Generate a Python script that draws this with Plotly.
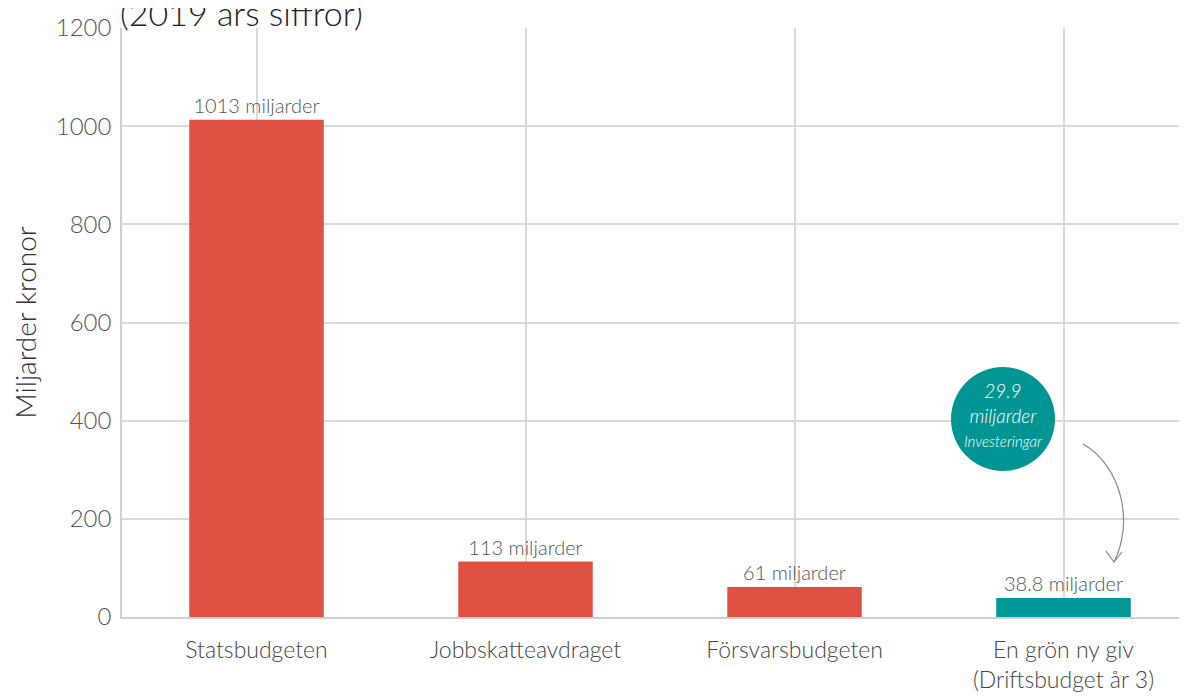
import plotly.graph_objects as go

categories = ["Statsbudgeten", "Jobbskatteavdraget", "Försvarsbudgeten",
              "En grön ny giv<br>(Driftsbudget år 3)"]
values = [1013, 113, 61, 38.8]
labels = ["1013 miljarder", "113 miljarder", "61 miljarder", "38.8 miljarder"]
colors = ["#DF5243", "#DF5243", "#DF5243", "#00979A"]
y_ticks = [0, 200, 400, 600, 800, 1000, 1200]
title_text = "(2019 års siffror)"
circle_value = "29.9"
circle_unit = "miljarder"
circle_note = "Investeringar"

FONT = "Lato"
GREY = "#555555"

# page body has an 8px margin; compensate so the plot lands where the reference has it
OFF = 8
L, R, T, B = 122 - OFF, 0, 28 - OFF, 696 - (617 - OFF)
W, H = 1187, 696
pw = W - L - R
ph = H - T - B
xr = [-0.5, -0.5 + pw / 269.0]
yr = [0, 1200]

def dx(px):
    return xr[0] + (px - OFF - L) / pw * (xr[1] - xr[0])

def dy(py):
    return yr[0] + (T + ph - (py - OFF)) / ph * (yr[1] - yr[0])

fig = go.Figure()
fig.add_trace(go.Bar(
    x=list(range(len(categories))), y=values, width=0.5,
    marker=dict(color=colors, line=dict(width=0)),
    text=labels, textposition="outside", cliponaxis=False,
    textfont=dict(family=FONT, size=20, color=GREY, weight=300),
))

# circle annotation
cx, cy = dx(1003), dy(419)
fig.add_shape(type="circle", xref="x", yref="y", xsizemode="pixel", ysizemode="pixel",
              xanchor=cx, yanchor=cy, x0=-52, x1=52, y0=-52, y1=52,
              fillcolor="#009592", line=dict(width=0), layer="above")
fig.add_annotation(x=cx, y=cy, xref="x", yref="y", showarrow=False,
                   text=f"<i>{circle_value}<br>{circle_unit}</i><br><i><span style='font-size:15px'>{circle_note}</span></i>",
                   font=dict(family=FONT, size=19, color="white", weight=300), align="center", yshift=5)

# curved arrow
p0 = (dx(1083), dy(444))
c1 = (dx(1120), dy(465))
c2 = (dx(1135), dy(520))
p1 = (dx(1114), dy(562))
fig.add_shape(type="path", xref="x", yref="y",
              path=f"M {p0[0]},{p0[1]} C {c1[0]},{c1[1]} {c2[0]},{c2[1]} {p1[0]},{p1[1]}",
              line=dict(color="#888888", width=1.2))
fig.add_shape(type="path", xref="x", yref="y",
              path=f"M {dx(1106)},{dy(551)} L {p1[0]},{p1[1]} L {dx(1122)},{dy(552)}",
              line=dict(color="#888888", width=1.2))

fig.add_annotation(xref="paper", yref="paper", x=0, y=1, xanchor="left", yanchor="bottom",
                   text=title_text, showarrow=False, yshift=-7, xshift=-4,
                   font=dict(family=FONT, size=34, color="#222222", weight=300))

fig.update_layout(
    width=W, height=H, margin=dict(l=L, r=R, t=T, b=B, autoexpand=False),
    paper_bgcolor="white", plot_bgcolor="white", showlegend=False,
    font=dict(family=FONT, color=GREY, weight=300),
    xaxis=dict(range=xr, tickmode="array", tickvals=list(range(len(categories))),
               ticktext=categories, tickfont=dict(size=23, color="#444444", weight=300),
               showgrid=True, gridcolor="#D9D9D9", gridwidth=1.5, automargin=False,
               showline=True, linecolor="#CFCFCF", linewidth=1.5, ticks="", ticklabelstandoff=12),
    yaxis=dict(range=yr, tickvals=y_ticks, tickfont=dict(size=24, color=GREY, weight=300),
               showgrid=True, gridcolor="#D9D9D9", gridwidth=1.5, zeroline=False, automargin=False,
               showline=True, linecolor="#CFCFCF", linewidth=1.5, ticklabelstandoff=4,
               title=dict(text="Miljarder kronor", font=dict(size=28, color="#333333", weight=300), standoff=14)),
)

fig.write_html("out.html")
